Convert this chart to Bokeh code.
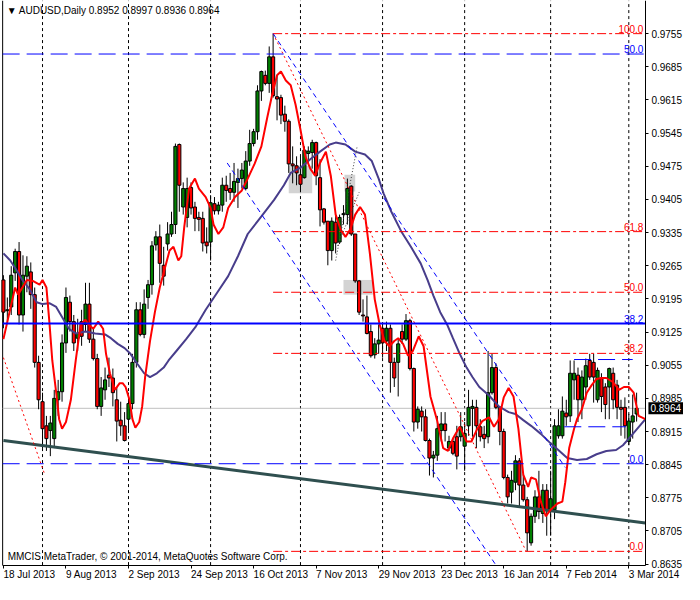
from bokeh.plotting import figure
from bokeh.models import Range1d, FixedTicker, Label, LinearAxis, PrintfTickFormatter
from bokeh.embed import file_html
from bokeh.resources import INLINE

FONT = "Liberation Sans"
FS = "10px"

# ---------------- axis data ----------------
date_idx = [0, 16, 32, 48, 64, 80, 96, 112, 128, 144, 160]
date_labels = ["18 Jul 2013", "9 Aug 2013", "2 Sep 2013", "24 Sep 2013", "16 Oct 2013",
               "7 Nov 2013", "29 Nov 2013", "23 Dec 2013", "16 Jan 2014", "7 Feb 2014", "3 Mar 2014"]
month_idx = [10, 32, 53, 76, 97, 118, 140, 160]
price_ticks = [0.8635, 0.8705, 0.8775, 0.8845, 0.8915, 0.8985, 0.9055, 0.9125, 0.9195,
               0.9265, 0.9335, 0.9405, 0.9475, 0.9545, 0.9615, 0.9685, 0.9755]

# ---------------- OHLC (daily bars, index 0 = 18 Jul 2013) ----------------
opens = [
 0.9235,0.9170,0.9178,0.9250,0.9295,0.9161,0.9243,0.9252,0.9204,0.9061,
 0.8978,0.8927,0.8917,0.8900,0.8982,0.8999,0.9102,0.9188,0.9147,0.9112,
 0.9147,0.9141,0.9184,0.9110,0.9069,0.8968,0.9003,0.9034,0.9028,0.8982,
 0.8939,0.8927,0.8941,0.8974,0.9061,0.9172,0.9120,0.9198,0.9225,0.9309,
 0.9326,0.9266,0.9311,0.9332,0.9352,0.9521,0.9389,0.9367,0.9430,0.9389,
 0.9367,0.9365,0.9315,0.9315,0.9396,0.9381,0.9393,0.9435,0.9428,0.9420,
 0.9441,0.9449,0.9428,0.9486,0.9523,0.9548,0.9634,0.9667,0.9650,0.9706,
 0.9622,0.9620,0.9585,0.9570,0.9480,0.9476,0.9457,0.9451,0.9502,0.9504,
 0.9525,0.9451,0.9385,0.9359,0.9297,0.9357,0.9315,0.9373,0.9373,0.9433,
 0.9332,0.9233,0.9161,0.9157,0.9126,0.9077,0.9100,0.9133,0.9106,0.9133,
 0.9061,0.9061,0.9126,0.9110,0.9149,0.9048,0.8935,0.8958,0.8946,0.8896,
 0.8859,0.8865,0.8917,0.8931,0.8880,0.8894,0.8904,0.8904,0.8884,0.8927,
 0.8964,0.8966,0.8925,0.8909,0.8904,0.8997,0.9050,0.8966,0.8915,0.8818,
 0.8787,0.8808,0.8853,0.8802,0.8771,0.8680,0.8736,0.8777,0.8742,0.8791,
 0.8750,0.8750,0.8906,0.8906,0.8954,0.8948,0.9024,0.9034,0.8982,0.9009,
 0.9065,0.9061,0.8982,0.9028,0.9009,0.9009,0.9038,0.9013,0.8966,0.8966,
 0.8894,0.8935,0.8952]
highs = [
 0.9245,0.9198,0.9264,0.9301,0.9315,0.9287,0.9285,0.9272,0.9219,0.9075,
 0.8997,0.8948,0.8948,0.9003,0.9024,0.9120,0.9219,0.9202,0.9161,0.9153,
 0.9172,0.9229,0.9229,0.9133,0.9079,0.9030,0.9050,0.9071,0.9048,0.9009,
 0.8978,0.8956,0.8997,0.9079,0.9188,0.9188,0.9215,0.9235,0.9317,0.9338,
 0.9352,0.9305,0.9357,0.9379,0.9523,0.9523,0.9441,0.9451,0.9441,0.9400,
 0.9379,0.9379,0.9346,0.9414,0.9410,0.9400,0.9451,0.9455,0.9461,0.9482,
 0.9470,0.9482,0.9507,0.9552,0.9554,0.9646,0.9677,0.9677,0.9728,0.9755,
 0.9667,0.9626,0.9603,0.9574,0.9517,0.9496,0.9496,0.9517,0.9517,0.9531,
 0.9527,0.9490,0.9387,0.9359,0.9367,0.9373,0.9373,0.9393,0.9449,0.9435,
 0.9332,0.9235,0.9194,0.9202,0.9141,0.9112,0.9141,0.9141,0.9147,0.9141,
 0.9071,0.9112,0.9141,0.9163,0.9153,0.9050,0.8968,0.8968,0.8962,0.8900,
 0.8874,0.8948,0.8956,0.8956,0.8906,0.8900,0.8927,0.8956,0.8935,0.9003,
 0.8982,0.8982,0.8941,0.8927,0.9085,0.9079,0.9059,0.8968,0.8921,0.8824,
 0.8832,0.8865,0.8859,0.8824,0.8777,0.8742,0.8791,0.8832,0.8804,0.8804,
 0.8832,0.8941,0.8962,0.8989,0.8982,0.9065,0.9065,0.9050,0.9044,0.9069,
 0.9079,0.9079,0.9050,0.9038,0.9017,0.9050,0.9050,0.9024,0.8982,0.8987,
 0.8952,0.8993,0.8997]
lows = [
 0.9133,0.9147,0.9161,0.9233,0.9141,0.9126,0.9209,0.9174,0.9050,0.8962,
 0.8880,0.8874,0.8863,0.8880,0.8948,0.8978,0.9081,0.9126,0.9085,0.9085,
 0.9096,0.9126,0.9102,0.9065,0.8962,0.8948,0.8982,0.9009,0.8968,0.8894,
 0.8906,0.8894,0.8915,0.8962,0.9050,0.9116,0.9112,0.9174,0.9204,0.9297,
 0.9229,0.9223,0.9297,0.9326,0.9332,0.9379,0.9373,0.9346,0.9373,0.9338,
 0.9338,0.9295,0.9291,0.9276,0.9373,0.9373,0.9379,0.9400,0.9404,0.9400,
 0.9387,0.9428,0.9424,0.9476,0.9517,0.9531,0.9613,0.9646,0.9630,0.9620,
 0.9572,0.9564,0.9548,0.9461,0.9439,0.9435,0.9420,0.9449,0.9482,0.9470,
 0.9435,0.9348,0.9352,0.9266,0.9276,0.9291,0.9311,0.9352,0.9352,0.9328,
 0.9229,0.9161,0.9147,0.9120,0.9071,0.9069,0.9079,0.9071,0.9085,0.8997,
 0.9009,0.8989,0.9100,0.9106,0.9044,0.8915,0.8921,0.8915,0.8894,0.8822,
 0.8818,0.8853,0.8894,0.8894,0.8874,0.8865,0.8835,0.8894,0.8832,0.8906,
 0.8904,0.8880,0.8894,0.8880,0.8890,0.8993,0.8962,0.8886,0.8814,0.8763,
 0.8763,0.8791,0.8756,0.8767,0.8662,0.8674,0.8722,0.8730,0.8722,0.8695,
 0.8695,0.8730,0.8900,0.8900,0.8927,0.8935,0.8982,0.8935,0.8941,0.8982,
 0.9024,0.8976,0.8976,0.8956,0.8941,0.8941,0.8962,0.8941,0.8906,0.8900,
 0.8886,0.8900,0.8936]
closes = [
 0.9167,0.9172,0.9245,0.9295,0.9161,0.9245,0.9264,0.9204,0.9061,0.8982,
 0.8921,0.8900,0.8933,0.8985,0.8999,0.9102,0.9198,0.9147,0.9102,0.9122,
 0.9116,0.9184,0.9110,0.9069,0.8968,0.9007,0.9024,0.9028,0.8997,0.8937,
 0.8927,0.8896,0.8974,0.9061,0.9172,0.9120,0.9184,0.9225,0.9307,0.9326,
 0.9270,0.9243,0.9332,0.9352,0.9517,0.9435,0.9428,0.9428,0.9387,0.9365,
 0.9363,0.9313,0.9307,0.9398,0.9381,0.9393,0.9435,0.9424,0.9420,0.9443,
 0.9449,0.9467,0.9486,0.9523,0.9548,0.9634,0.9675,0.9650,0.9706,0.9624,
 0.9617,0.9583,0.9570,0.9480,0.9476,0.9461,0.9437,0.9509,0.9507,0.9525,
 0.9455,0.9383,0.9357,0.9297,0.9359,0.9313,0.9367,0.9375,0.9428,0.9332,
 0.9233,0.9167,0.9159,0.9122,0.9075,0.9100,0.9108,0.9102,0.9133,0.9061,
 0.9028,0.9100,0.9110,0.9149,0.9048,0.8935,0.8962,0.8946,0.8896,0.8859,
 0.8865,0.8921,0.8931,0.8917,0.8894,0.8869,0.8863,0.8925,0.8911,0.8966,
 0.8968,0.8927,0.8904,0.8900,0.8997,0.9050,0.8966,0.8915,0.8818,0.8777,
 0.8812,0.8853,0.8802,0.8771,0.8701,0.8736,0.8777,0.8746,0.8791,0.8750,
 0.8773,0.8927,0.8927,0.8958,0.8946,0.9038,0.9038,0.8982,0.9030,0.9054,
 0.9030,0.9030,0.9044,0.8989,0.8972,0.9048,0.8982,0.8966,0.8962,0.8927,
 0.8937,0.8948,0.8964]

# ---------------- indicator lines ----------------
red_ma_idx = [0, 1.75, 3, 3.75, 6, 7.5, 9.25, 10, 11, 11.75, 12.5, 13.5, 14.25, 15, 16, 17.25,
              18.5, 19.75, 21, 21.75, 23, 24.25, 25.5, 26.25, 27.25, 28.5, 29.75, 30.5, 31.25,
              32.25, 33, 33.75, 34.75, 35.5, 36.25, 37.5, 38.75, 40, 41, 42.5, 43.5, 44.75, 45.5,
              46.25, 47.5, 49, 50, 51.75, 53, 53.75, 55, 56.25, 57.5, 59.25, 61, 62.5, 64.25, 66,
              67.5, 68.75, 70, 71, 72.25, 73.5, 74.75, 76, 77.25, 78.5, 79.75, 81, 82.5, 83.75,
              85, 86.25, 87.5, 88.75, 90, 91.25, 92.5, 93.75, 95, 96.25, 97.5, 98.75, 100, 101,
              102.25, 103.5, 104.75, 106.25, 107.5, 109.25, 111, 112.5, 113.75, 115, 116.75,
              118.5, 119.75, 121.25, 122.5, 124.25, 125.5, 126.75, 128, 129.25, 130.5, 131.75,
              133, 134.25, 135, 136.25, 137.5, 138.75, 140, 141.75, 143, 143.75, 144.75, 146,
              146.75, 148, 149.25, 150.5, 151.75, 153, 154.25, 156, 157.5, 158.75, 160, 161.25,
              162.5, 164.25]
red_ma_val = [0.9110, 0.9174, 0.9219, 0.9204, 0.9235, 0.9233, 0.9225, 0.9235, 0.9219, 0.9147,
              0.9065, 0.8997, 0.8941, 0.8921, 0.8935, 0.8982, 0.9065, 0.9141, 0.9151, 0.9141,
              0.9132, 0.9147, 0.9132, 0.9079, 0.9038, 0.9003, 0.9017, 0.9017, 0.9009, 0.8982,
              0.8941, 0.8923, 0.8935, 0.8968, 0.9030, 0.9106, 0.9167, 0.9219, 0.9250, 0.9297,
              0.9305, 0.9276, 0.9285, 0.9346, 0.9428, 0.9449, 0.9428, 0.9410, 0.9387, 0.9352,
              0.9332, 0.9346, 0.9387, 0.9410, 0.9424, 0.9449, 0.9480, 0.9517, 0.9578, 0.9626,
              0.9667, 0.9675, 0.9656, 0.9646, 0.9605, 0.9552, 0.9496, 0.9470, 0.9455, 0.9482,
              0.9506, 0.9455, 0.9373, 0.9342, 0.9326, 0.9342, 0.9373, 0.9389, 0.9373, 0.9291,
              0.9194, 0.9141, 0.9106, 0.9095, 0.9106, 0.9112, 0.9100, 0.9075, 0.9085, 0.9116,
              0.9095, 0.8989, 0.8937, 0.8880, 0.8874, 0.8900, 0.8925, 0.8894, 0.8894, 0.8921,
              0.8937, 0.8945, 0.8925, 0.8941, 0.8987, 0.9007, 0.8989, 0.8921, 0.8824, 0.8798,
              0.8818, 0.8814, 0.8767, 0.8736, 0.8750, 0.8763, 0.8767, 0.8808, 0.8880, 0.8921,
              0.8941, 0.8962, 0.8997, 0.9013, 0.9026, 0.9028, 0.9028, 0.9019, 0.9003, 0.9009,
              0.9009, 0.8997, 0.8948, 0.8941]
slow_ma_idx = [0, 1.75, 3.5, 5, 6.75, 8.5, 10, 11.75, 13.5, 15, 16.75, 18.5, 21, 23.5, 26, 27.5,
               29.25, 31, 32.5, 34.25, 36, 37.5, 39.25, 41, 42.25, 44.25, 46.75, 49.25, 51.75,
               54.75, 57.5, 60, 62.5, 66, 69.25, 71.75, 73.5, 76, 78.5, 81, 83.5, 85, 87.5, 90,
               92.5, 94.25, 96, 97.25, 99.25, 101.75, 104.25, 106.75, 108.5, 110, 111.75, 113.5,
               115, 116.75, 118.5, 120, 121.75, 124.25, 126.75, 129.25, 131, 133, 135, 137.5,
               140, 142.25, 144.25, 146.75, 149.25, 151.75, 154.25, 156.75, 158.5, 160, 161.75,
               164.25]
slow_ma_val = [0.9291, 0.9276, 0.9254, 0.9233, 0.9215, 0.9188, 0.9184, 0.9186, 0.9178, 0.9157,
               0.9132, 0.9122, 0.9126, 0.9122, 0.9120, 0.9112, 0.9100, 0.9091, 0.9079, 0.9058,
               0.9038, 0.9030, 0.9038, 0.9050, 0.9065, 0.9085, 0.9110, 0.9137, 0.9172, 0.9209,
               0.9243, 0.9285, 0.9332, 0.9369, 0.9404, 0.9435, 0.9461, 0.9472, 0.9490, 0.9506,
               0.9521, 0.9525, 0.9521, 0.9506, 0.9500, 0.9486, 0.9449, 0.9418, 0.9379, 0.9338,
               0.9305, 0.9270, 0.9235, 0.9202, 0.9167, 0.9141, 0.9112, 0.9079, 0.9050, 0.9030,
               0.9009, 0.8991, 0.8968, 0.8956, 0.8952, 0.8939, 0.8927, 0.8910, 0.8890, 0.8874,
               0.8859, 0.8855, 0.8857, 0.8867, 0.8874, 0.8876, 0.8886, 0.8900, 0.8917, 0.8941]

# ---------------- drawn objects ----------------
red_fib_levels = [0.9755, 0.9337, 0.9209, 0.9080, 0.8662]
red_fib_text = ["100.0", "61.8", "50.0", "38.2", "0.0"]
red_fib_start = 69
blue_levels = [0.9712, 0.9143, 0.8847]
blue_text = ["50.0", "38.2", "0.0"]
blue_short_y = [0.9067, 0.8925]
blue_short_x0 = [146, 143.5]
blue_short_x1 = [161, 159.25]
fib_trend_x = [69, 133.75]
fib_trend_y = [0.9755, 0.8662]
left_dot_x = [0, 10.5]
left_dot_y = [0.9071, 0.8826]
chan_x = [[69, 143.75], [57.25, 126]]
chan_y = [[0.9755, 0.8839], [0.9482, 0.8633]]
gray_dot_x = [[85, 90.5], [85.5, 91]]
gray_dot_y = [[0.9276, 0.9517], [0.9307, 0.9420]]
rect_l = [73, 87.25, 87]
rect_r = [79, 90, 94.5]
rect_t = [0.9476, 0.9457, 0.9235]
rect_b = [0.9418, 0.9422, 0.9204]
trend_x = [0, 164.25]
trend_y = [0.8896, 0.8722]
last_price = 0.8964

# view geometry (data units): whole canvas is the frame; axes sit at fixed places
XL, XR = -0.75, 174.25      # canvas left / right
YB, YT = 0.8592, 0.9825     # canvas bottom / top
XB = -0.2                   # left border line
XA = 164.25                 # price axis
YA = 0.8633                 # time axis

p = figure(width=684, height=584, x_range=Range1d(XL, XR), y_range=Range1d(YB, YT),
           output_backend="svg", toolbar_location=None, x_axis_location=None,
           y_axis_location=None, min_border=0)
p.background_fill_color = "white"
p.border_fill_color = "white"
p.outline_line_color = None
p.grid.visible = False

# price axis (right side of the chart)
yax = LinearAxis(fixed_location=XA, bounds=(YA, YT), ticker=FixedTicker(ticks=price_ticks),
                 formatter=PrintfTickFormatter(format="%.4f"))
yax.axis_line_color = "black"
yax.major_tick_line_color = "black"
yax.major_tick_out = 3
yax.major_tick_in = 0
yax.minor_tick_line_color = None
yax.major_label_standoff = 3
yax.major_label_text_font = FONT
yax.major_label_text_font_size = FS
yax.major_label_text_color = "black"
p.add_layout(yax, "right")

# time axis
xax = LinearAxis(fixed_location=YA, bounds=(XB, XA), ticker=FixedTicker(ticks=date_idx))
xax.major_label_overrides = {i: t for i, t in zip(date_idx, date_labels)}
xax.axis_line_color = "black"
xax.major_tick_line_color = "black"
xax.major_tick_out = 3
xax.major_tick_in = 0
xax.minor_tick_line_color = None
xax.major_label_standoff = 6
xax.major_label_orientation = -0.0001
xax.major_label_text_font = FONT
xax.major_label_text_font_size = FS
xax.major_label_text_color = "black"
p.add_layout(xax, "below")

# left border and month separators
p.segment(x0=[XB], y0=[YA], x1=[XB], y1=[YT], line_color="black", line_width=1)
p.segment(x0=month_idx, y0=[YA] * len(month_idx), x1=month_idx, y1=[YT] * len(month_idx),
          line_color="black", line_width=1, line_dash="3 3")

# gray boxes
p.quad(left=rect_l, right=rect_r, top=rect_t, bottom=rect_b, fill_color="#D3D3D3",
       line_color=None)

# bid line
p.line([XB, XA], [last_price, last_price], line_color="#C0C0C0", line_width=1)

# candles
idx = list(range(len(opens)))
tops = [max(o, c) for o, c in zip(opens, closes)]
bots = [min(o, c) for o, c in zip(opens, closes)]
cols = ["#008000" if c >= o else "#FF0000" for o, c in zip(opens, closes)]
p.segment(x0=idx, y0=lows, x1=idx, y1=highs, line_color="black", line_width=1)
p.vbar(x=idx, width=0.8, top=tops, bottom=bots, fill_color=cols, line_color="black",
       line_width=1)

# trend line
p.line(trend_x, trend_y, line_color="#2F4F4F", line_width=3)

# moving averages
p.line(slow_ma_idx, slow_ma_val, line_color="#483D8B", line_width=2)
p.line(red_ma_idx, red_ma_val, line_color="#FF0000", line_width=2)

# red fibonacci
for lv, tx in zip(red_fib_levels, red_fib_text):
    p.line([red_fib_start, XA], [lv, lv], line_color="#FF0000", line_width=1,
           line_dash="9 3 3 3")
    p.add_layout(Label(x=XA, y=lv, x_offset=-2, y_offset=1, text=tx, text_align="right",
                       text_baseline="bottom", text_color="#FF0000", text_font=FONT,
                       text_font_size=FS))
p.line(fib_trend_x, fib_trend_y, line_color="#FF0000", line_width=1, line_dash="2 3")
p.line(left_dot_x, left_dot_y, line_color="#FF0000", line_width=1, line_dash="2 3")

# blue levels
for lv, tx, dash, w in zip(blue_levels, blue_text, ["17 7", "solid", "17 7"], [1, 2, 1]):
    p.line([XB, XA], [lv, lv], line_color="#0000FF", line_width=w, line_dash=dash)
    p.add_layout(Label(x=XA, y=lv, x_offset=-2, y_offset=1, text=tx, text_align="right",
                       text_baseline="bottom", text_color="#0000FF", text_font=FONT,
                       text_font_size=FS))
for y, a, b in zip(blue_short_y, blue_short_x0, blue_short_x1):
    p.line([a, b], [y, y], line_color="#0000FF", line_width=1, line_dash="17 7")

# channel lines
p.multi_line(chan_x, chan_y, line_color="#0000FF", line_width=1, line_dash="5 4")
p.multi_line(gray_dot_x, gray_dot_y, line_color="#404040", line_width=1, line_dash="1 2")

# header / footer
p.add_layout(Label(x=XB, y=YT, x_offset=4, y_offset=-4,
                   text="\u25BC AUDUSD,Daily  0.8952 0.8997 0.8936 0.8964",
                   text_align="left", text_baseline="top", text_font=FONT,
                   text_font_size=FS, text_color="black"))
p.add_layout(Label(x=XB, y=YA, x_offset=5, y_offset=3,
                   text="MMCIS MetaTrader, \u00A9 2001-2014, MetaQuotes Software Corp.",
                   text_align="left", text_baseline="bottom", text_font=FONT,
                   text_font_size=FS, text_color="black"))

# last price box on the price axis
box = Label(x=XA, y=last_price, x_offset=3, text="0.8964", text_align="left",
            text_baseline="middle", text_font=FONT, text_font_size=FS,
            text_color="white", background_fill_color="black")
try:
    box.padding = 2
except Exception:
    pass
p.add_layout(box)

open("out.html", "w").write(file_html(p, INLINE))
